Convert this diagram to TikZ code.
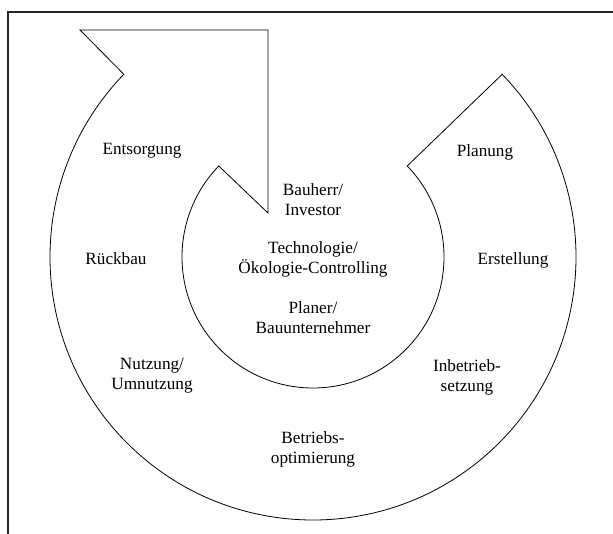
\documentclass[tikz,border=0pt]{standalone}
\usepackage{fontspec}
\setmainfont{Liberation Serif}
\usetikzlibrary{calc}
\tikzset{
  frameline/.style={line width=1.1pt, black!85},
  ringline/.style={line width=0.8pt},
  phase/.style={align=center, inner sep=0pt,
    font=\fontsize{17.2pt}{20pt}\selectfont}
}
\begin{document}
\begin{tikzpicture}[x=1pt,y=1pt]
\useasboundingbox (0,0) rectangle (613,533);
% outer frame (runs off at the right and bottom)
\draw[frameline] (8,-5) -- (8,521) -- (620,521);

% ring geometry
\coordinate (C) at (313,276);
\def\Rout{263pt}
\def\Rin{131pt}
\coordinate (outStart) at ($(C)+(44:\Rout)$);
\coordinate (inEnd) at ($(C)+(136:\Rin)$);
\coordinate (headOut) at (80,503);
\coordinate (headTip) at (268,503);
\coordinate (headIn) at (268,320);

% circular arrow: tail cut radially at the upper right, head at the upper left
\draw[ringline, line join=miter]
  (outStart) arc[start angle=44, end angle=-224, radius=\Rout]
  -- (headOut) -- (headTip) -- (headIn) -- (inEnd)
  arc[start angle=136, end angle=404, radius=\Rin]
  -- cycle;

% phases along the ring
\node[phase] (planung)  at (485,381) {Planung};
\node[phase] (erst)     at (513,273) {Erstellung};
\node[phase] (inbetr)   at (467,156) {Inbetrieb-\\setzung};
\node[phase] (betrieb)  at (313,84)  {Betriebs-\\optimierung};
\node[phase] (nutzung)  at (152,157) {Nutzung/\\Umnutzung};
\node[phase] (rueck)    at (116,274) {Rückbau};
\node[phase] (entsorg)  at (142,382) {Entsorgung};

% actors in the centre
\node[phase] (bauherr)  at (313,333) {Bauherr/\\Investor};
\node[phase] (techno)   at (313,274) {Technologie/\\Ökologie-Controlling};
\node[phase] (planer)   at (313,215) {Planer/\\Bauunternehmer};
\end{tikzpicture}
\end{document}
